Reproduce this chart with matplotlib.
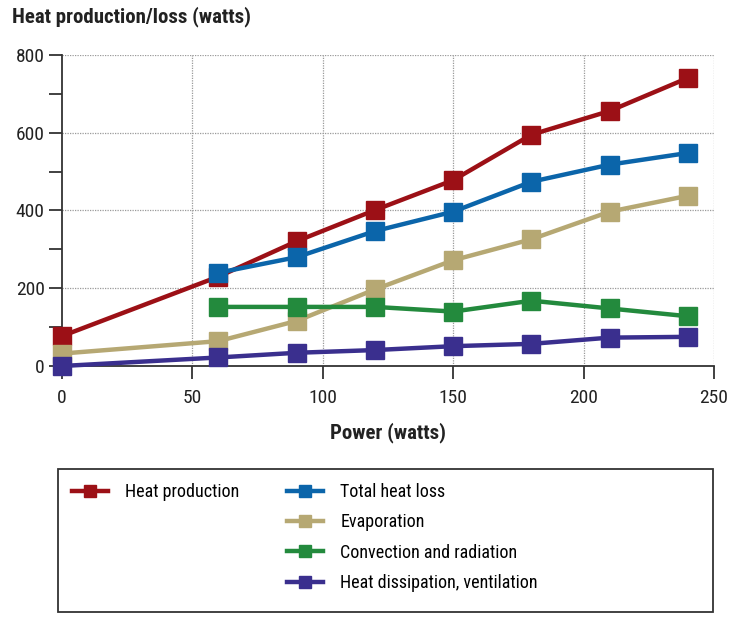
import matplotlib.pyplot as plt
from matplotlib.lines import Line2D
from matplotlib.patches import Rectangle

plt.rcParams["font.family"] = ["Roboto Condensed", "Liberation Sans", "DejaVu Sans"]

# data
power_all = [0, 60, 90, 120, 150, 180, 210, 240]
power_part = [60, 90, 120, 150, 180, 210, 240]

heat_production = [77, 230, 321, 401, 478, 595, 656, 741]
total_heat_loss = [240, 280, 347, 397, 474, 518, 548]
evaporation = [32, 64, 116, 197, 272, 326, 397, 438]
convection_radiation = [152, 152, 152, 140, 168, 148, 128]
ventilation = [0, 22, 34, 41, 51, 57, 73, 75]

series = [
    ("Heat production", power_all, heat_production, "#9c1016"),
    ("Total heat loss", power_part, total_heat_loss, "#0b65aa"),
    ("Evaporation", power_all, evaporation, "#b6a873"),
    ("Convection and radiation", power_part, convection_radiation, "#238a3d"),
    ("Heat dissipation, ventilation", power_all, ventilation, "#3a2f8e"),
]

W, H = 736, 623
fig = plt.figure(figsize=(W / 100, H / 100), dpi=100)
ax = fig.add_axes([62 / W, 1 - 366 / H, 652 / W, 311 / H])

handles = []
for label, xs, ys, color in series:
    ax.plot(xs, ys, color=color, linewidth=3.2, marker="s", markersize=12.5,
            clip_on=False, zorder=3)
    handles.append(Line2D([], [], color=color, linewidth=3.2, marker="s",
                          markersize=9, label=label))

ax.set_xlim(0, 250)
ax.set_ylim(0, 800)
ax.set_xticks([0, 50, 100, 150, 200, 250])
ax.set_yticks([0, 200, 400, 600, 800])
ax.set_yticks([100, 300, 500, 700], minor=True)
ax.tick_params(axis="both", which="both", direction="out", length=9.5, width=1.3,
               color="#333333", labelsize=14, labelcolor="#222222")
ax.tick_params(axis="x", pad=7)
ax.tick_params(axis="y", pad=3)

for side in ["top", "right"]:
    ax.spines[side].set_visible(False)
for side in ["left", "bottom"]:
    ax.spines[side].set_linewidth(1.3)
    ax.spines[side].set_color("#333333")

# dotted grid, including the outer top/right edges
for yv in [200, 400, 600, 800]:
    ax.axhline(yv, color="#9a9a9a", linestyle=(0, (1, 1)), linewidth=0.9, zorder=1)
for xv in [50, 100, 150, 200, 250]:
    ax.axvline(xv, color="#9a9a9a", linestyle=(0, (1, 1)), linewidth=0.9, zorder=1)

fig.text(12 / W, 1 - 17 / H, "Heat production/loss (watts)", fontsize=15,
         fontweight="bold", color="#222222", va="center", ha="left")
ax.set_xlabel("Power (watts)", fontsize=15, fontweight="bold", color="#222222",
              labelpad=11)

# legend: box drawn by hand, one entry on the left, four on the right
fig.patches.append(Rectangle((58 / W, 1 - 612 / H), 655 / W, 143 / H,
                             transform=fig.transFigure, fill=False,
                             edgecolor="#333333", linewidth=1.3))
leg_kw = dict(loc="upper left", bbox_transform=fig.transFigure, fontsize=13,
              frameon=False, handlelength=2.0, handletextpad=0.95,
              labelspacing=0.68, borderpad=0, borderaxespad=0)
fig.legend(handles=handles[:1], bbox_to_anchor=(72 / W, 1 - 483 / H), **leg_kw)
fig.legend(handles=handles[1:], bbox_to_anchor=(287 / W, 1 - 483 / H), **leg_kw)

fig.savefig("out.png", dpi=100)
